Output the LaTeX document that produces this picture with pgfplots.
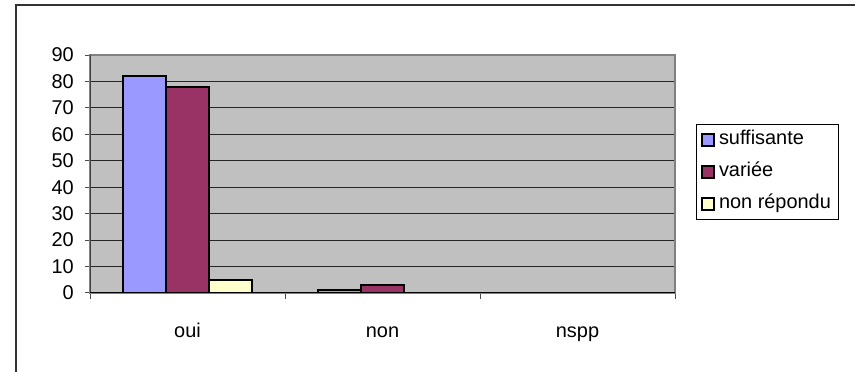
\documentclass[border=0pt]{standalone}
\usepackage{pgfplots}
\pgfplotsset{compat=1.18}
\usepackage{fontspec}
\setmainfont{Liberation Sans}

\definecolor{suff}{RGB}{153,153,255}
\definecolor{vari}{RGB}{153,51,102}
\definecolor{nrep}{RGB}{255,255,204}
\definecolor{plotbg}{RGB}{192,192,192}
\definecolor{frame}{RGB}{128,128,128}

\newcommand{\chartfont}{\fontsize{20}{24}\selectfont}

\begin{document}
\begin{tikzpicture}
\useasboundingbox (0,0) rectangle (855bp,372bp);
% chart area border (top and left edges)
\draw[line width=1.4bp, black!80] (16bp,0) -- (16bp,367bp) -- (855bp,367bp);

\begin{axis}[
  at={(90bp,79bp)}, anchor=south west,
  width=585bp, height=238bp, scale only axis,
  xmin=-0.5, xmax=2.5,
  ymin=0, ymax=90,
  ytick={0,10,...,90},
  xtick={0,1,2},
  xticklabels={oui,non,nspp},
  minor xtick={-0.5,0.5,1.5,2.5},
  major x tick style={draw=none},
  xtick pos=bottom, ytick pos=left,
  tick align=outside,
  major tick length=5bp, minor tick length=6bp,
  tick style={black!70, line width=1bp},
  ymajorgrids,
  major grid style={black!85, line width=0.9bp},
  axis background/.style={fill=plotbg},
  axis line style={frame, line width=1.8bp},
  /pgf/number format/assume math mode=true,
  ticklabel style={font=\chartfont},
  yticklabel style={anchor=east, inner sep=0pt, xshift=-11bp},
  xticklabel style={anchor=base, inner sep=0pt, yshift=-39bp},
  ybar=0pt, bar width=43bp,
  every axis plot/.append style={draw=black, line width=1.8bp},
  legend cell align=left,
  legend image code/.code={\draw[#1, line width=1.6bp] (0.8bp,-6bp) rectangle (12.8bp,6bp);},
  legend style={
    at={(1.0359,0.7101)}, anchor=north west,
    draw=black, line width=0.8bp, fill=white,
    inner xsep=5bp, inner ysep=6bp,
    row sep=13bp, column sep=2bp,
    font=\chartfont,
    nodes={inner xsep=2bp, inner ysep=0pt, text height=14bp, text depth=5bp},
  },
]
\addplot[fill=suff] coordinates {(0,82) (1,1) (2,0)};
\addplot[fill=vari] coordinates {(0,78) (1,3) (2,0)};
\addplot[fill=nrep] coordinates {(0,5) (1,0) (2,0)};
\legend{suffisante,variée,non répondu}
% left and bottom axis lines drawn darker than the frame
\draw[black!75, line width=1.8bp] (rel axis cs:0,1) -- (rel axis cs:0,0);
\draw[black, line width=1.2bp] (rel axis cs:0,0) -- (rel axis cs:1,0);
\end{axis}
\end{tikzpicture}
\end{document}
